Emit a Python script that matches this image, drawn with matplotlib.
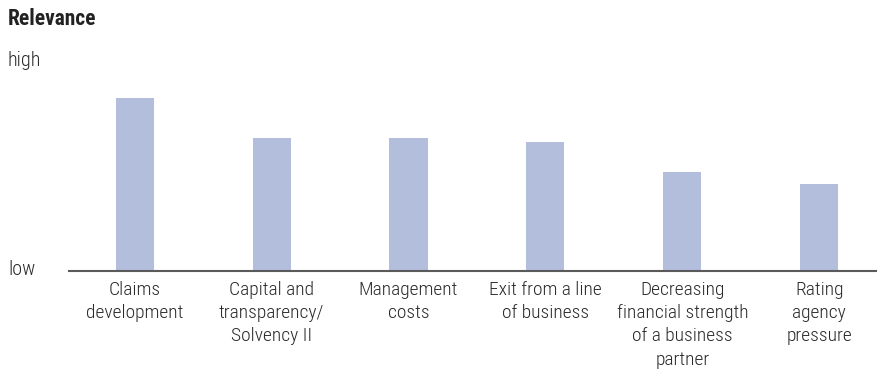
import matplotlib.pyplot as plt
import matplotlib.transforms as mtransforms

# Relevance of reasons (relative scale, 0 = low, 10 = high)
categories = ["Claims\ndevelopment",
              "Capital and\ntransparency/\nSolvency II",
              "Management\ncosts",
              "Exit from a line\nof business",
              "Decreasing\nfinancial strength\nof a business\npartner",
              "Rating\nagency\npressure"]
relevance = [8.2, 6.3, 6.3, 6.1, 4.7, 4.1]

plt.rcParams['font.family'] = ['Roboto Condensed', 'DejaVu Sans']

fig = plt.figure(figsize=(8.78, 3.69), dpi=100)
ax = fig.add_axes([69 / 878, 1 - 271 / 369, 809 / 878, 211 / 369])

x = range(len(categories))
ax.bar(x, relevance, width=0.278, color='#b3bddc', zorder=2)

ax.set_xlim(-0.48, 5.43)
ax.set_ylim(0, 10)

for s in ['top', 'right', 'left']:
    ax.spines[s].set_visible(False)
ax.spines['bottom'].set_color('#5a5a5a')
ax.spines['bottom'].set_linewidth(1.5)

ax.set_xticks(list(x))
ax.set_xticklabels(categories, fontsize=14, color='#2a2a2a', linespacing=1.36, fontweight='light')
ax.tick_params(axis='x', length=0, pad=7.5)
ax.set_yticks([])

trans = mtransforms.blended_transform_factory(fig.transFigure, ax.transData)
ax.text(8 / 878, 10, 'high', transform=trans, fontsize=14.5, color='#2a2a2a', va='center', ha='left',
        fontweight='light')
ax.text(8 / 878, 0.05, 'low', transform=trans, fontsize=14.5, color='#2a2a2a', va='center', ha='left',
        fontweight='light')
fig.text(8 / 878, 1 - 19 / 369, 'Relevance', fontsize=15.5, fontweight='bold', color='#222222',
         va='center', ha='left')

fig.savefig('out.png', dpi=100)
